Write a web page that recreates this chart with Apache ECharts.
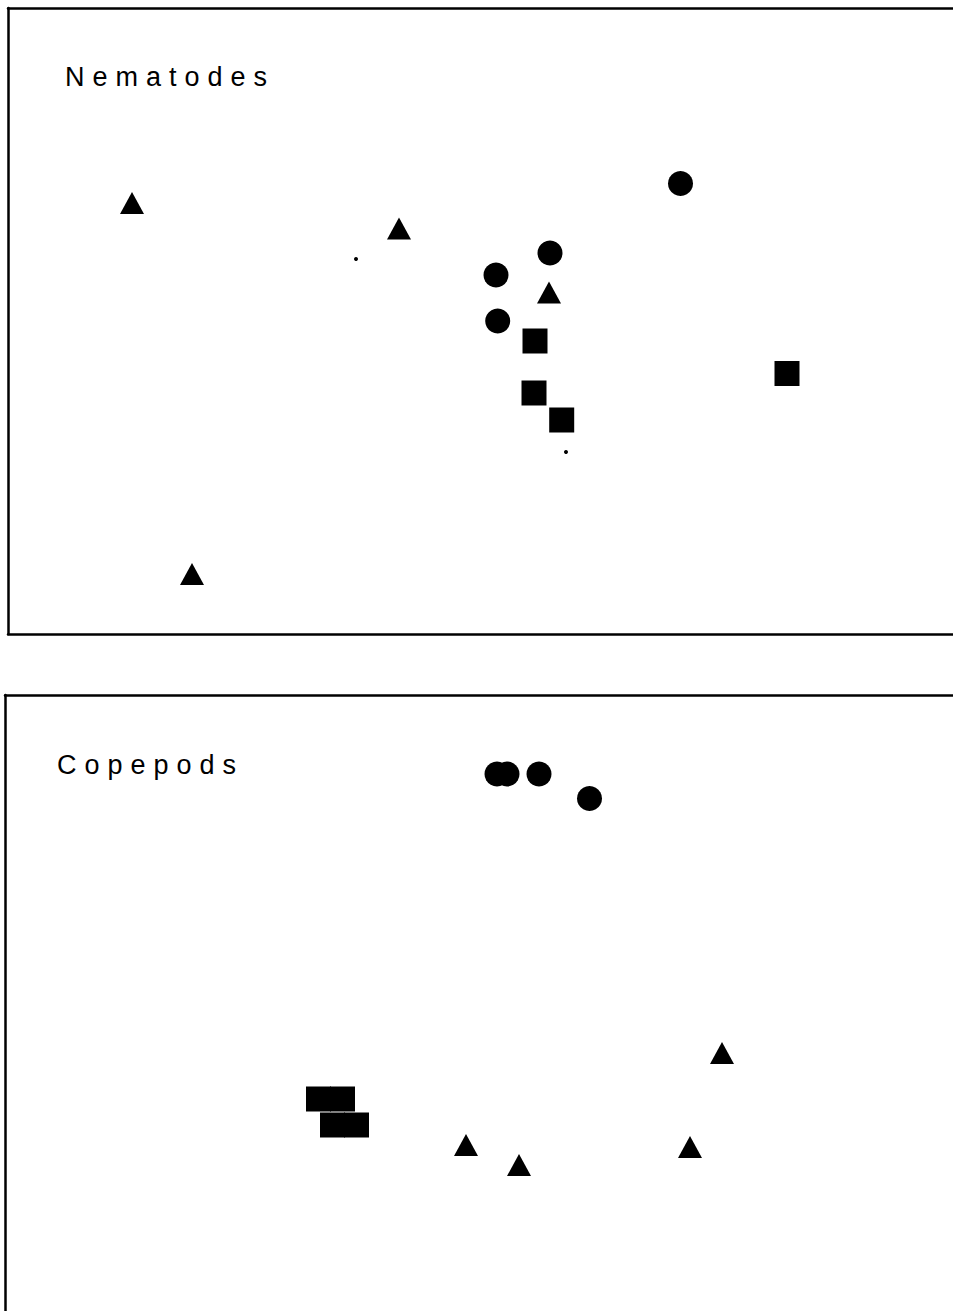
<!DOCTYPE html>
<html>
<head>
<meta charset="utf-8">
<script src="https://cdn.jsdelivr.net/npm/echarts@6/dist/echarts.min.js"></script>
<style>
  html, body { margin: 0; padding: 0; background: #fff; }
  #chart { width: 953px; height: 1311px; }
  /* the panel titles are spaced out in the original print */
  #chart svg text { letter-spacing: 8px; }
</style>
</head>
<body>
<div id="chart"></div>
<script>
// Nematodes panel, [x, y] ordination scores (arbitrary units)
const nemaTriangles = [[12.4, 43.1], [39.1, 40.55], [54.1, 34.15], [18.4, 6.0]];
const nemaCircles = [[67.25, 45.05], [54.2, 38.1], [48.8, 35.9], [48.97, 31.3]];
const nemaSquares = [[52.7, 29.3], [52.6, 24.1], [55.37, 21.4], [77.9, 26.05]];
const nemaDots = [[34.8, 37.5], [55.8, 18.2]];

// Copepods panel
const copeTriangles = [[71.7, 25.8], [46.1, 16.6], [51.4, 14.6], [68.5, 16.4]];
const copeCircles = [[49.2, 53.7], [50.2, 53.7], [53.4, 53.7], [58.45, 51.25]];
const copeSquares = [[31.35, 21.2], [33.75, 21.2], [32.75, 18.6], [35.15, 18.6]];

const panelTitles = ["Nematodes", "Copepods"];

const chart = echarts.init(document.getElementById("chart"), null, { renderer: "svg" });

// panel frame is drawn with axis lines only (no ticks / labels)
const edge = (idx, pos, max) => ({
  type: "value",
  gridIndex: idx,
  position: pos,
  min: 0,
  max: max,
  axisLine: { show: true, onZero: false, lineStyle: { color: "#000", width: 2.5 } },
  axisTick: { show: false },
  axisLabel: { show: false },
  splitLine: { show: false },
});

const pts = (name, xi, yi, data, symbol, size) => ({
  name: name,
  type: "scatter",
  xAxisIndex: xi,
  yAxisIndex: yi,
  data: data,
  symbol: symbol,
  symbolSize: size,
  itemStyle: { color: "#000", opacity: 1 },
  silent: true,
});

const titleText = (text, x, y) => ({
  type: "text",
  x: x,
  y: y,
  style: {
    text: text,
    fill: "#000",
    font: "27px 'Liberation Sans', Arial, sans-serif",
    textAlign: "left",
    textVerticalAlign: "middle",
  },
});

chart.setOption({
  animation: false,
  backgroundColor: "#fff",
  grid: [
    { left: 8, top: 8, right: 0, height: 626 },
    { left: 5, top: 695, right: 0, bottom: 0 },
  ],
  xAxis: [
    edge(0, "bottom", 94.5),
    edge(0, "top", 94.5),
    edge(1, "top", 94.8),
  ],
  yAxis: [
    edge(0, "left", 62.6),
    edge(1, "left", 61.6),
  ],
  graphic: [
    titleText(panelTitles[0], 65, 77),
    titleText(panelTitles[1], 57, 765),
  ],
  series: [
    pts("nema-tri", 0, 0, nemaTriangles, "triangle", [24, 22]),
    pts("nema-circ", 0, 0, nemaCircles, "circle", 25),
    pts("nema-sq", 0, 0, nemaSquares, "rect", 25),
    pts("nema-dot", 0, 0, nemaDots, "circle", 4),
    pts("cope-tri", 2, 1, copeTriangles, "triangle", [24, 22]),
    pts("cope-circ", 2, 1, copeCircles, "circle", 25),
    pts("cope-sq", 2, 1, copeSquares, "rect", 25),
  ],
});
</script>
</body>
</html>
